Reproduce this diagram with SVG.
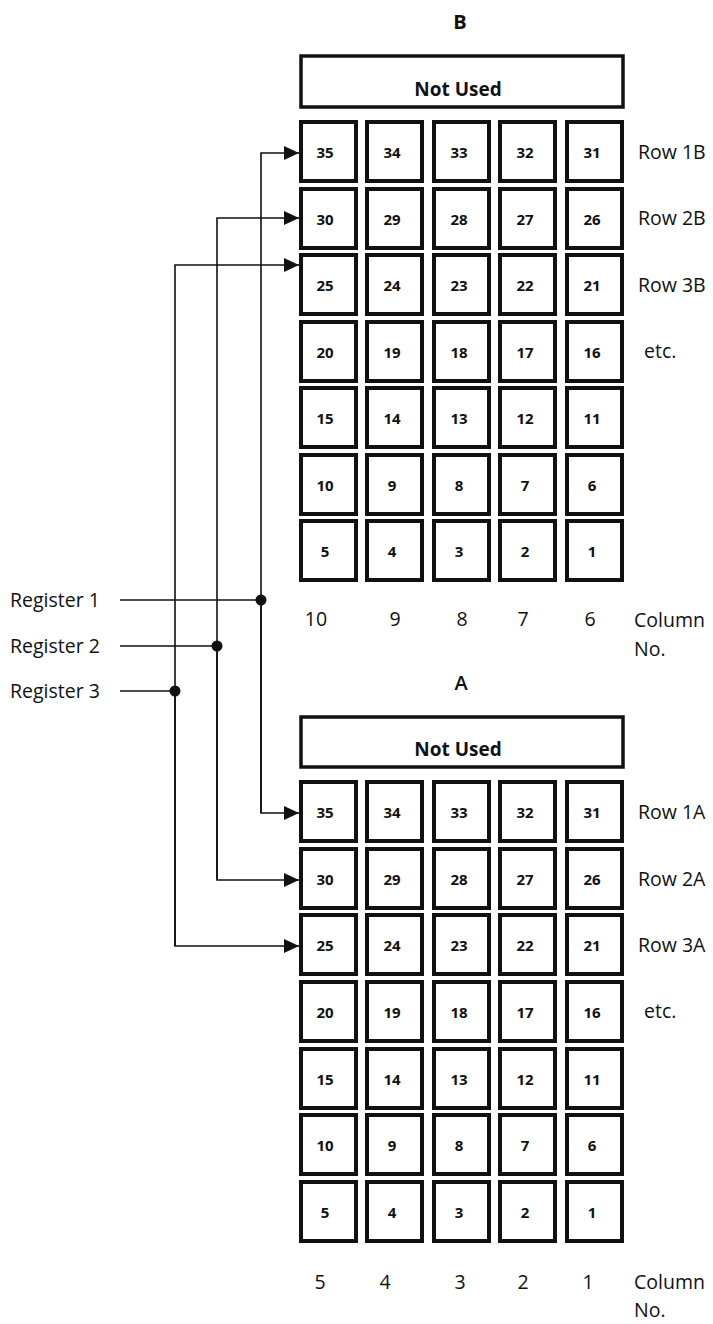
<svg xmlns="http://www.w3.org/2000/svg" width="713" height="1324" viewBox="0 0 713 1324">
<style>
.bg{fill:#fff}
.cell{fill:#fff;stroke:#111;stroke-width:4}
.nu{fill:#fff;stroke:#111;stroke-width:3.5}
.num{font-family:"Open Sans","Liberation Sans",sans-serif;font-weight:bold;font-size:15px;fill:#111;text-anchor:middle}
.lbl{font-family:"Open Sans","Liberation Sans",sans-serif;font-size:19.5px;fill:#111}
.mid{text-anchor:middle}
.nut{font-family:"Open Sans","Liberation Sans",sans-serif;font-weight:bold;font-size:19px;fill:#111;text-anchor:middle}
.ttl{font-family:"Open Sans","Liberation Sans",sans-serif;font-weight:bold;font-size:20px;fill:#111;text-anchor:middle}
.ttla{font-family:"Open Sans","Liberation Sans",sans-serif;font-weight:600;font-size:20px;fill:#111;text-anchor:middle}
.ln{fill:none;stroke:#111;stroke-width:1.6}
.dot{fill:#111}
</style>
<defs>
<marker id="ah" markerWidth="16" markerHeight="14" refX="15" refY="7" orient="auto" markerUnits="userSpaceOnUse">
<path d="M0,0 L15,7 L0,14 Z" fill="#111"/>
</marker>
</defs>
<rect class="bg" x="0" y="0" width="713" height="1324"/>

<g id="grid-B">
<text class="ttl" x="460" y="29">B</text>
<g id="notused-B"><rect class="nu" x="301" y="56" width="322" height="51"/><text class="nut" x="458" y="96">Not Used</text></g>
<g id="B-cells">
<rect class="cell" x="301" y="122" width="55" height="59"/><text class="num" x="325" y="158">35</text>
<rect class="cell" x="367" y="122" width="55" height="59"/><text class="num" x="392" y="158">34</text>
<rect class="cell" x="434" y="122" width="55" height="59"/><text class="num" x="459" y="158">33</text>
<rect class="cell" x="500" y="122" width="55" height="59"/><text class="num" x="525" y="158">32</text>
<rect class="cell" x="567" y="122" width="55" height="59"/><text class="num" x="592" y="158">31</text>

<rect class="cell" x="301" y="189" width="55" height="59"/><text class="num" x="325" y="225">30</text>
<rect class="cell" x="367" y="189" width="55" height="59"/><text class="num" x="392" y="225">29</text>
<rect class="cell" x="434" y="189" width="55" height="59"/><text class="num" x="459" y="225">28</text>
<rect class="cell" x="500" y="189" width="55" height="59"/><text class="num" x="525" y="225">27</text>
<rect class="cell" x="567" y="189" width="55" height="59"/><text class="num" x="592" y="225">26</text>

<rect class="cell" x="301" y="255" width="55" height="59"/><text class="num" x="325" y="291">25</text>
<rect class="cell" x="367" y="255" width="55" height="59"/><text class="num" x="392" y="291">24</text>
<rect class="cell" x="434" y="255" width="55" height="59"/><text class="num" x="459" y="291">23</text>
<rect class="cell" x="500" y="255" width="55" height="59"/><text class="num" x="525" y="291">22</text>
<rect class="cell" x="567" y="255" width="55" height="59"/><text class="num" x="592" y="291">21</text>

<rect class="cell" x="301" y="322" width="55" height="59"/><text class="num" x="325" y="358">20</text>
<rect class="cell" x="367" y="322" width="55" height="59"/><text class="num" x="392" y="358">19</text>
<rect class="cell" x="434" y="322" width="55" height="59"/><text class="num" x="459" y="358">18</text>
<rect class="cell" x="500" y="322" width="55" height="59"/><text class="num" x="525" y="358">17</text>
<rect class="cell" x="567" y="322" width="55" height="59"/><text class="num" x="592" y="358">16</text>

<rect class="cell" x="301" y="388" width="55" height="59"/><text class="num" x="325" y="424">15</text>
<rect class="cell" x="367" y="388" width="55" height="59"/><text class="num" x="392" y="424">14</text>
<rect class="cell" x="434" y="388" width="55" height="59"/><text class="num" x="459" y="424">13</text>
<rect class="cell" x="500" y="388" width="55" height="59"/><text class="num" x="525" y="424">12</text>
<rect class="cell" x="567" y="388" width="55" height="59"/><text class="num" x="592" y="424">11</text>

<rect class="cell" x="301" y="455" width="55" height="59"/><text class="num" x="325" y="491">10</text>
<rect class="cell" x="367" y="455" width="55" height="59"/><text class="num" x="392" y="491">9</text>
<rect class="cell" x="434" y="455" width="55" height="59"/><text class="num" x="459" y="491">8</text>
<rect class="cell" x="500" y="455" width="55" height="59"/><text class="num" x="525" y="491">7</text>
<rect class="cell" x="567" y="455" width="55" height="59"/><text class="num" x="592" y="491">6</text>

<rect class="cell" x="301" y="521" width="55" height="59"/><text class="num" x="325" y="557">5</text>
<rect class="cell" x="367" y="521" width="55" height="59"/><text class="num" x="392" y="557">4</text>
<rect class="cell" x="434" y="521" width="55" height="59"/><text class="num" x="459" y="557">3</text>
<rect class="cell" x="500" y="521" width="55" height="59"/><text class="num" x="525" y="557">2</text>
<rect class="cell" x="567" y="521" width="55" height="59"/><text class="num" x="592" y="557">1</text>
</g>
<text class="lbl" x="638" y="159">Row 1B</text>
<text class="lbl" x="638" y="225">Row 2B</text>
<text class="lbl" x="638" y="292">Row 3B</text>
<text class="lbl" x="644" y="358">etc.</text>
<text class="lbl mid" x="316" y="626">10</text>
<text class="lbl mid" x="395" y="626">9</text>
<text class="lbl mid" x="462" y="626">8</text>
<text class="lbl mid" x="523" y="626">7</text>
<text class="lbl mid" x="590" y="626">6</text>
<text class="lbl" x="634" y="627">Column</text>
<text class="lbl" x="634" y="656">No.</text>
</g>

<g id="grid-A">
<text class="ttla" x="461" y="690">A</text>
<g id="notused-A"><rect class="nu" x="301" y="717" width="322" height="50"/><text class="nut" x="458" y="756">Not Used</text></g>
<g id="A-cells">
<rect class="cell" x="301" y="782" width="55" height="59"/><text class="num" x="325" y="818">35</text>
<rect class="cell" x="367" y="782" width="55" height="59"/><text class="num" x="392" y="818">34</text>
<rect class="cell" x="434" y="782" width="55" height="59"/><text class="num" x="459" y="818">33</text>
<rect class="cell" x="500" y="782" width="55" height="59"/><text class="num" x="525" y="818">32</text>
<rect class="cell" x="567" y="782" width="55" height="59"/><text class="num" x="592" y="818">31</text>

<rect class="cell" x="301" y="849" width="55" height="59"/><text class="num" x="325" y="885">30</text>
<rect class="cell" x="367" y="849" width="55" height="59"/><text class="num" x="392" y="885">29</text>
<rect class="cell" x="434" y="849" width="55" height="59"/><text class="num" x="459" y="885">28</text>
<rect class="cell" x="500" y="849" width="55" height="59"/><text class="num" x="525" y="885">27</text>
<rect class="cell" x="567" y="849" width="55" height="59"/><text class="num" x="592" y="885">26</text>

<rect class="cell" x="301" y="915" width="55" height="59"/><text class="num" x="325" y="951">25</text>
<rect class="cell" x="367" y="915" width="55" height="59"/><text class="num" x="392" y="951">24</text>
<rect class="cell" x="434" y="915" width="55" height="59"/><text class="num" x="459" y="951">23</text>
<rect class="cell" x="500" y="915" width="55" height="59"/><text class="num" x="525" y="951">22</text>
<rect class="cell" x="567" y="915" width="55" height="59"/><text class="num" x="592" y="951">21</text>

<rect class="cell" x="301" y="982" width="55" height="59"/><text class="num" x="325" y="1018">20</text>
<rect class="cell" x="367" y="982" width="55" height="59"/><text class="num" x="392" y="1018">19</text>
<rect class="cell" x="434" y="982" width="55" height="59"/><text class="num" x="459" y="1018">18</text>
<rect class="cell" x="500" y="982" width="55" height="59"/><text class="num" x="525" y="1018">17</text>
<rect class="cell" x="567" y="982" width="55" height="59"/><text class="num" x="592" y="1018">16</text>

<rect class="cell" x="301" y="1049" width="55" height="59"/><text class="num" x="325" y="1085">15</text>
<rect class="cell" x="367" y="1049" width="55" height="59"/><text class="num" x="392" y="1085">14</text>
<rect class="cell" x="434" y="1049" width="55" height="59"/><text class="num" x="459" y="1085">13</text>
<rect class="cell" x="500" y="1049" width="55" height="59"/><text class="num" x="525" y="1085">12</text>
<rect class="cell" x="567" y="1049" width="55" height="59"/><text class="num" x="592" y="1085">11</text>

<rect class="cell" x="301" y="1115" width="55" height="59"/><text class="num" x="325" y="1151">10</text>
<rect class="cell" x="367" y="1115" width="55" height="59"/><text class="num" x="392" y="1151">9</text>
<rect class="cell" x="434" y="1115" width="55" height="59"/><text class="num" x="459" y="1151">8</text>
<rect class="cell" x="500" y="1115" width="55" height="59"/><text class="num" x="525" y="1151">7</text>
<rect class="cell" x="567" y="1115" width="55" height="59"/><text class="num" x="592" y="1151">6</text>

<rect class="cell" x="301" y="1182" width="55" height="59"/><text class="num" x="325" y="1218">5</text>
<rect class="cell" x="367" y="1182" width="55" height="59"/><text class="num" x="392" y="1218">4</text>
<rect class="cell" x="434" y="1182" width="55" height="59"/><text class="num" x="459" y="1218">3</text>
<rect class="cell" x="500" y="1182" width="55" height="59"/><text class="num" x="525" y="1218">2</text>
<rect class="cell" x="567" y="1182" width="55" height="59"/><text class="num" x="592" y="1218">1</text>
</g>
<text class="lbl" x="638" y="819">Row 1A</text>
<text class="lbl" x="638" y="886">Row 2A</text>
<text class="lbl" x="638" y="952">Row 3A</text>
<text class="lbl" x="644" y="1018">etc.</text>
<text class="lbl mid" x="320" y="1289">5</text>
<text class="lbl mid" x="385" y="1289">4</text>
<text class="lbl mid" x="460" y="1289">3</text>
<text class="lbl mid" x="523" y="1289">2</text>
<text class="lbl mid" x="588" y="1289">1</text>
<text class="lbl" x="634" y="1289">Column</text>
<text class="lbl" x="634" y="1317">No.</text>
</g>

<g id="registers">
<text class="lbl" x="10" y="607">Register 1</text>
<text class="lbl" x="10" y="653">Register 2</text>
<text class="lbl" x="10" y="698">Register 3</text>
</g>

<g id="connectors">
<path class="ln" d="M120,600 H261"/>
<path class="ln" d="M120,646 H217"/>
<path class="ln" d="M120,691 H175"/>
<path class="ln" d="M261,813 V153 H299" marker-end="url(#ah)"/>
<path class="ln" d="M261,600 V813 H299" marker-end="url(#ah)"/>
<path class="ln" d="M217,880 V218 H299" marker-end="url(#ah)"/>
<path class="ln" d="M217,646 V880 H299" marker-end="url(#ah)"/>
<path class="ln" d="M175,946 V265 H299" marker-end="url(#ah)"/>
<path class="ln" d="M175,691 V946 H299" marker-end="url(#ah)"/>
<circle class="dot" cx="261" cy="600" r="5.5"/>
<circle class="dot" cx="217" cy="646" r="5.5"/>
<circle class="dot" cx="175" cy="691" r="5.5"/>
</g>
</svg>
